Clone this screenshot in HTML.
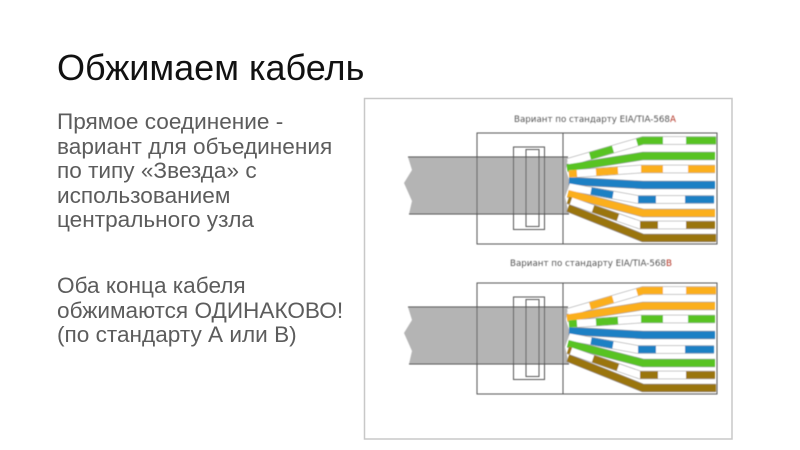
<!DOCTYPE html>
<html><head><meta charset="utf-8">
<style>
html,body{margin:0;padding:0;background:#fff}
#s{position:relative;width:800px;height:450px;overflow:hidden;background:#fff;font-family:"Liberation Sans",sans-serif}
.t{position:absolute;left:57px;white-space:nowrap;filter:blur(0.25px)}
.b{font-size:22.6px;color:#5c5c5c;line-height:24.6px}
svg{position:absolute;left:0;top:0}
</style></head><body>
<div id="s">
<div class="t" style="top:46.5px;font-size:36px;line-height:42px;color:#111">Обжимаем кабель</div>
<div class="t b" style="top:110px">Прямое соединение -<br>вариант для объединения<br>по типу «Звезда» с<br>использованием<br>центрального узла</div>
<div class="t b" style="top:274px">Оба конца кабеля<br>обжимаются ОДИНАКОВО!<br>(по стандарту А или В)</div>
<svg width="800" height="450" viewBox="0 0 800 450">
<defs>
<filter id="bl"><feGaussianBlur stdDeviation="0.45"/></filter>
<g id="base" fill="none">
  <path d="M408 157L568 157L566 170L570 183L565 197L569 214L409 214L412 201L404 183L412 170Z" fill="#b4b4b4" stroke="none"/>
  <path d="M408 157H568M409 214H569" stroke="#444" stroke-width="1"/>
  <g stroke="#555" stroke-width="1">
    <rect x="477" y="133" width="240" height="111"/>
    <path d="M563 133V244"/>
    <rect x="513.5" y="147" width="31" height="82.5"/>
    <rect x="526" y="149.500" width="13" height="77"/>
  </g>
  <g stroke="#8a8a8a" stroke-width="8.200" stroke-linejoin="miter">
    <path d="M568 162.300L643 140.500H716"/>
    <path d="M567 168L643 156H715"/>
    <path d="M569 174L641 169H715"/>
    <path d="M569 181L643 185H715"/>
    <path d="M569 187L638 199.500H714"/>
    <path d="M568 193.500L643 213H715"/>
    <path d="M568 200L640 225H715"/>
    <path d="M568 208L643 238H716"/>
  </g>
  <g stroke-width="7.200">
    <path d="M568 162.300L643 140.500H716" stroke="#fff"/>
    <path d="M590 156L613 149.200" stroke="var(--a)"/>
    <path d="M637 142.300L643 140.500H663M686 140.500H716" stroke="var(--a)"/>
    <path d="M567 168L643 156H715" stroke="var(--a)"/>
    <path d="M569 174L641 169H715" stroke="#fff"/>
    <path d="M569 174L577 173.400M596 172.100L618 170.600M641 169H663M688 169H715" stroke="var(--b)"/>
    <path d="M569 181L643 185H715" stroke="#1b80c4"/>
    <path d="M569 187L638 199.500H714" stroke="#fff"/>
    <path d="M591 191L613 195M638 199.500H656M685 199.500H714" stroke="#1b80c4"/>
    <path d="M568 193.500L643 213H715" stroke="var(--b)"/>
    <path d="M568 200L640 225H715" stroke="#fff"/>
    <path d="M568 200L571 201M593 208.700L618 217.400M640 225H658M686 225H715" stroke="#9a7410"/>
    <path d="M568 208L643 238H716" stroke="#9a7410"/>
  </g>
</g>
</defs>
<rect x="364.500" y="98.500" width="367.500" height="340.500" fill="#fff" stroke="#c8c8c8" stroke-width="1.500"/>
<g filter="url(#bl)">
  <use href="#base" style="--a:#58c322;--b:#fbaf1e"/>
  <use href="#base" y="150" style="--a:#fbaf1e;--b:#58c322"/>
  <text x="514" y="122" font-family="DejaVu Sans" font-size="8.700" fill="#555">Вариант по стандарту EIA/TIA-568<tspan fill="#b03020">A</tspan></text>
  <text x="510" y="266" font-family="DejaVu Sans" font-size="8.700" fill="#555">Вариант по стандарту EIA/TIA-568<tspan fill="#b03020">B</tspan></text>
</g>
</svg>
</div>
</body></html>
